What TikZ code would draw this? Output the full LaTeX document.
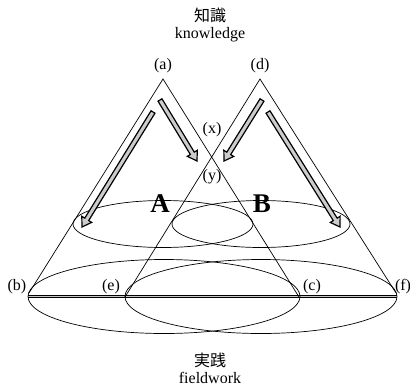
\documentclass[tikz,border=0pt]{standalone}
\usepackage{fontspec}
\setmainfont{Liberation Serif}
\newfontfamily\cjk{Noto Sans CJK JP}
\usetikzlibrary{calc}
\tikzset{
  edge/.style={line width=0.7pt},
  oval/.style={line width=0.7pt},
  lbl/.style={inner sep=0pt, font=\fontsize{16}{19}\selectfont},
  big/.style={inner sep=0pt, font=\fontsize{27}{30}\selectfont\bfseries},
  harrowstyle/.style={draw=black, line width=1.2pt, fill=gray!40, line join=miter},
  baseline2/.style={line width=0.6pt, double=gray!45, double distance=1pt}
}
\newcommand{\hollowarrow}[2]{%
  \coordinate (hb) at ($(#2)!9pt!(#1)$);
  \draw[harrowstyle] ($(#1)!2.3pt!90:(#2)$) -- ($(hb)!2.3pt!-90:(#1)$) -- ($(hb)!5.8pt!-90:(#1)$)
    -- (#2) -- ($(hb)!5.8pt!90:(#1)$) -- ($(hb)!2.3pt!90:(#1)$) -- ($(#1)!2.3pt!-90:(#2)$) -- cycle;}
\begin{document}
\begin{tikzpicture}[x=1pt,y=-1pt]
\useasboundingbox (0,0) rectangle (410,389);
% key points
\coordinate (a) at (163,79);
\coordinate (d) at (260,79);
\coordinate (bl) at (29,293);
\coordinate (cr) at (299,297);
\coordinate (el) at (125,297);
\coordinate (fr) at (396,293);
\coordinate (b) at (28,296.5);
\coordinate (f) at (397,296.5);
% baseline
\draw[baseline2] (b) -- (f);
% ellipses
\draw[oval] (163,224) ellipse [x radius=90, y radius=23.5];
\draw[oval] (261,224) ellipse [x radius=89, y radius=23.5];
\draw[oval] (164,296.5) ellipse [x radius=136, y radius=37];
\draw[oval] (261,296.5) ellipse [x radius=136, y radius=37];
% cones
\draw[edge] (bl) -- (a) -- (cr);
\draw[edge] (el) -- (d) -- (fr);
% arrows
\coordinate (t1) at (153,112); \coordinate (h1) at (82,227);
\coordinate (t2) at (160,100); \coordinate (h2) at (197,161);
\coordinate (t3) at (262,100); \coordinate (h3) at (224,161);
\coordinate (t4) at (268,112); \coordinate (h4) at (340,227);
\hollowarrow{t1}{h1}
\hollowarrow{t2}{h2}
\hollowarrow{t3}{h3}
\hollowarrow{t4}{h4}
% labels
\node[lbl] (ta) at (163,66) {(a)};
\node[lbl] (td) at (260,66) {(d)};
\node[lbl] (tx) at (212,130) {(x)};
\node[lbl] (ty) at (212,177) {(y)};
\node[big] (tA) at (160,204) {A};
\node[big] (tB) at (262,204) {B};
\node[lbl] (tb) at (17,287) {(b)};
\node[lbl] (te) at (111,287) {(e)};
\node[lbl] (tc) at (312,287) {(c)};
\node[lbl] (tf) at (403,287) {(f)};
\node[lbl] (k1) at (210,15) {\cjk 知識};
\node[lbl] (k2) at (210,35) {knowledge};
\node[lbl] (p1) at (210,360) {\cjk 実践};
\node[lbl] (p2) at (210,378) {fieldwork};
\end{tikzpicture}
\end{document}
